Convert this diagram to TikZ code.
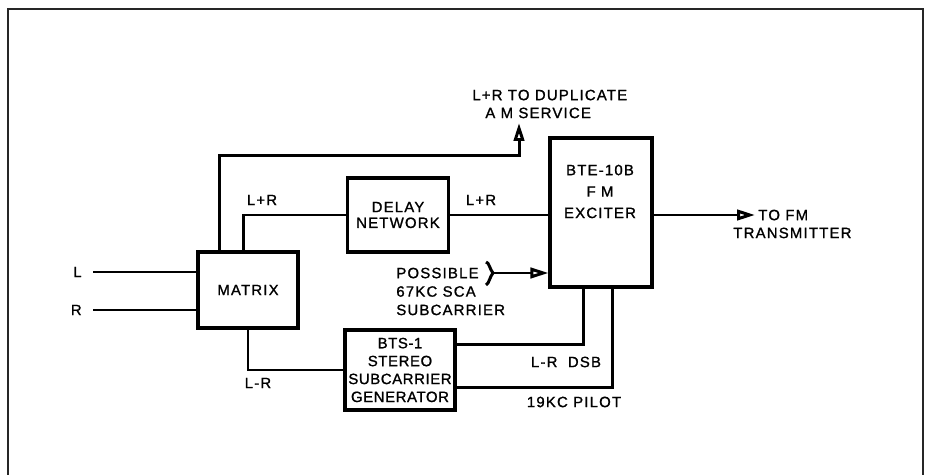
\documentclass[tikz,border=0pt]{standalone}
\usepackage{fontspec}
\setmainfont{Liberation Sans}[LetterSpace=8, FakeBold=1.2]
\newfontfamily\tightfont{Liberation Sans}[LetterSpace=4, FakeBold=1.2]
\usetikzlibrary{arrows.meta,positioning}

\begin{document}
\begin{tikzpicture}[x=0.02cm, y=-0.02cm,
    font=\fontsize{8.5}{9}\selectfont,
    lead/.style={font=\fontsize{8.5}{#1}\selectfont},
    blk/.style={draw, line width=1.8pt, align=center, inner sep=0pt},
    wire/.style={line width=1.7pt},
    arr/.style={wire, -{Triangle[open, length=3.6mm, width=2.1mm]}},
    lbl/.style={inner sep=0pt, align=left}
  ]
  \useasboundingbox (0,0) rectangle (928,475);
  \draw[line width=1.3pt, black!85] (8,480) -- (8,9) -- (923,9) -- (923,480);

  % blocks
  \node[blk, minimum width=2cm, minimum height=1.52cm] (matrix) at (248,290) {MATRIX};
  \node[blk, lead=9, minimum width=2.02cm, minimum height=1.48cm] (delay) at (398,215) {DELAY\\NETWORK};
  \node[blk, minimum width=2.04cm, minimum height=2.98cm] (exciter) at (601,212.5) {};
  \node[lbl, lead=12.2, align=center] (exctext) at (600,191.5) {BTE-10B\\F M\\EXCITER};
  \node[blk, lead=10.2, minimum width=2.2cm, minimum height=1.6cm] (bts) at (400,370) {\tightfont BTS-1\\\tightfont STEREO\\\tightfont SUBCARRIER\\\tightfont GENERATOR};

  % inputs
  \coordinate (lin) at (93,272);
  \coordinate (rin) at (93,310);
  \node[lbl, left=0.22cm of lin] (llbl) {L};
  \node[lbl, left=0.22cm of rin] (rlbl) {R};
  \draw[wire] (lin) -- (lin -| matrix.west);
  \draw[wire] (rin) -- (rin -| matrix.west);

  % L+R paths
  \coordinate (dup) at (519,123);
  \draw[arr] ([xshift=0.46cm]matrix.north west) -- ++(0,-95) -| (dup);
  \node[lbl, lead=10.2, anchor=west] (duplbl) at (472,104) {L+R TO DUPLICATE\\\hspace*{0.26cm}A M SERVICE};
  \draw[wire] ([xshift=0.94cm]matrix.north west) |- (delay.west);
  \node[lbl] (lr1) at (262,200) {L+R};
  \draw[wire] (delay.east) -- (delay.east -| exciter.west);
  \node[lbl] (lr2) at (481,200) {L+R};

  % output
  \coordinate (txout) at (755,215);
  \draw[arr] (exciter.east |- txout) -- (txout);
  \node[lbl, lead=10.2, anchor=west] (txlbl) at (733,224) {\hspace*{0.5cm}TO FM\\TRANSMITTER};

  % SCA input
  \coordinate (sca) at (493,273);
  \draw[wire] (486,262) .. controls (489,262) and (490,270) .. (sca) .. controls (490,276) and (489,284) .. (486,285);
  \draw[arr] (sca) -- (sca -| exciter.west);
  \node[lbl, lead=10.5, anchor=west] (scalbl) at (396,291.5) {POSSIBLE\\67KC SCA\\SUBCARRIER};

  % L-R paths
  \draw[wire] (matrix.south) |- (bts.west);
  \node[lbl] (lmr) at (258,383) {L-R};
  \draw[wire] ([yshift=-0.32cm]bts.north east) -| ([xshift=-0.36cm]exciter.south);
  \node[lbl] (dsb) at (566,362) {L-R\hspace{0.7em}DSB};
  \draw[wire] ([yshift=0.48cm]bts.south east) -| ([xshift=0.22cm]exciter.south);
  \node[lbl] (pilot) at (574,402) {19KC PILOT};
\end{tikzpicture}
\end{document}
